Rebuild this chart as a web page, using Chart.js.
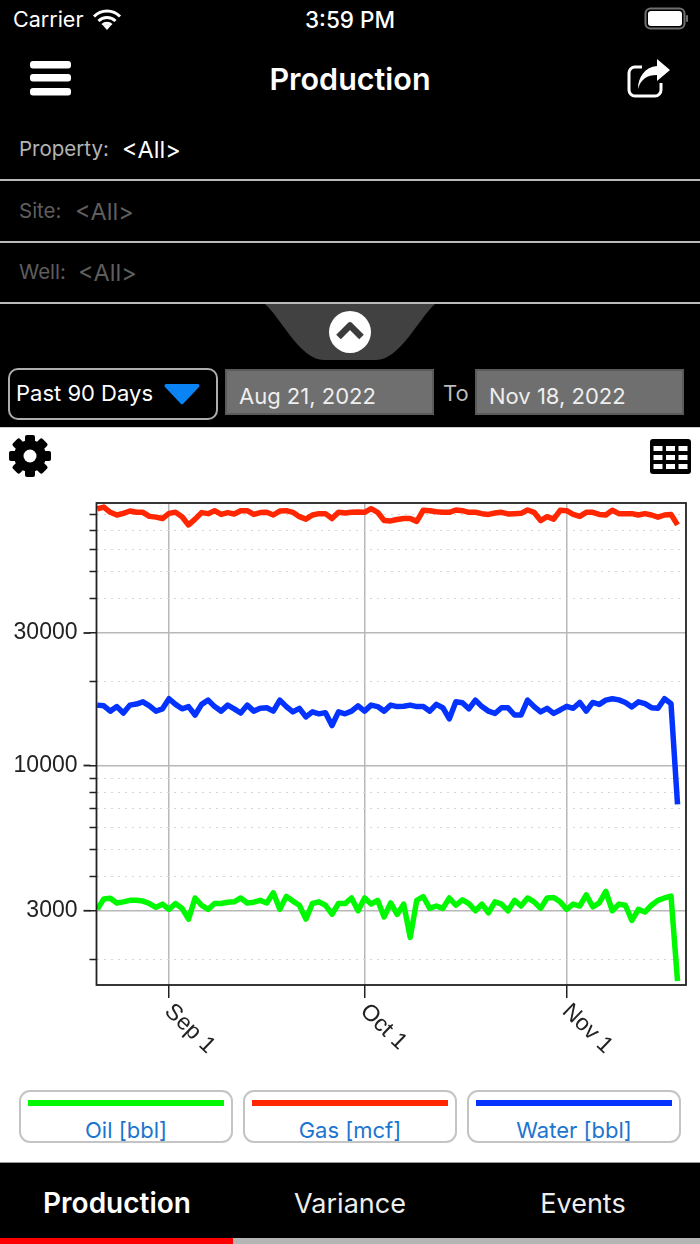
<!DOCTYPE html>
<html>
<head>
<meta charset="utf-8">
<title>Production</title>
<script src="https://cdn.jsdelivr.net/npm/chart.js@4"></script>
<style>
  html, body { margin: 0; padding: 0; background: #000; }
  #phone { position: relative; width: 700px; height: 1244px; overflow: hidden; background: #000;
           font-family: Inter, "Noto Sans", sans-serif; color: #fff; }
  .t { position: absolute; white-space: nowrap; line-height: 1; transform: translateY(-50%); }
  .c { transform: translate(-50%, -50%); }
  .sep { position: absolute; left: 0; width: 700px; height: 2px; background: #b9b9b9; }
  .date { position: absolute; top: 369px; width: 205px; height: 42px; background: #6f6f6f; border: 2px solid #5b5b5b; }
  #panel { position: absolute; left: 0; top: 427px; width: 700px; height: 735px; background: #fff; border-top: 1px solid #ccc; box-sizing: border-box; }
  canvas { position: absolute; left: 0; top: 427px; }
  .leg { position: absolute; top: 1090px; width: 210px; height: 49px; border: 2px solid #c4c4c4; border-radius: 11px; background: #fff; }
  .leg i { position: absolute; left: 7px; top: 8px; width: 196px; height: 6px; }
  .leg span { position: absolute; left: 0; width: 100%; top: 27px; text-align: center; color: #1b75cf; font-size: 22px; line-height: 22px; }
  svg { position: absolute; }
</style>
</head>
<body>
<div id="phone">
  <div class="t" style="left:13px;top:20px;font-size:21.5px">Carrier</div>
  <svg style="left:92px;top:9px" width="30" height="21" viewBox="0 0 30 21">
    <path d="M2 7.5 A18 18 0 0 1 28 7.5 M6.5 12 A12 12 0 0 1 23.5 12 M10.5 16 A6.5 6.5 0 0 1 19.5 16" fill="none" stroke="#fff" stroke-width="3"/>
    <path d="M15 21 L11.5 17 A5 5 0 0 1 18.5 17 Z" fill="#fff"/>
  </svg>
  <div class="t c" style="left:350px;top:20px;font-size:22.5px;font-weight:500">3:59 PM</div>
  <svg style="left:644px;top:7px" width="44" height="23" viewBox="0 0 44 23">
    <rect x="1.5" y="1.5" width="39" height="20" rx="5" fill="none" stroke="#707070" stroke-width="2"/>
    <rect x="4" y="4" width="34" height="15" rx="3" fill="#fff"/>
    <rect x="42" y="8" width="2" height="7" rx="1" fill="#707070"/>
  </svg>

  <svg style="left:30px;top:60px" width="42" height="36" viewBox="0 0 42 36">
    <rect x="0" y="1" width="41" height="7.5" rx="3" fill="#fff"/>
    <rect x="0" y="14" width="41" height="7.5" rx="3" fill="#fff"/>
    <rect x="0" y="28" width="41" height="7.5" rx="3" fill="#fff"/>
  </svg>
  <div class="t c" style="left:350px;top:79px;font-size:30.5px;font-weight:600">Production</div>
  <svg style="left:627px;top:58px" width="44" height="40" viewBox="0 0 44 40">
    <path d="M15 9 H8 A6 6 0 0 0 2 15 V32 A6 6 0 0 0 8 38 H28 A6 6 0 0 0 34 32 V25" fill="none" stroke="#fff" stroke-width="3"/>
    <path d="M30 1 L43 12 L30 23 V17 C20 17 14 21 11 31 C11 19 18 9 30 8 Z" fill="#fff"/>
  </svg>

  <div class="t" style="left:19px;top:149px;font-size:20.5px;color:#b4b4b4">Property:</div>
  <div class="t" style="left:122px;top:150px;font-size:23.5px">&lt;All&gt;</div>
  <div class="sep" style="top:179px"></div>
  <div class="t" style="left:19px;top:211px;font-size:20.5px;color:#5e5e5e">Site:</div>
  <div class="t" style="left:75px;top:212px;font-size:23.5px;color:#5e5e5e">&lt;All&gt;</div>
  <div class="sep" style="top:241px"></div>
  <div class="t" style="left:19px;top:272px;font-size:20.5px;color:#5e5e5e">Well:</div>
  <div class="t" style="left:78px;top:273px;font-size:23.5px;color:#5e5e5e">&lt;All&gt;</div>
  <div class="sep" style="top:302px"></div>

  <svg style="left:264px;top:304px" width="172" height="57" viewBox="0 0 172 57">
    <path d="M1 0 H171 C155 14 136 56 112 56 H60 C36 56 17 14 1 0 Z" fill="#414141"/>
  </svg>
  <svg style="left:329px;top:311px" width="42" height="42" viewBox="0 0 42 42">
    <circle cx="21" cy="21" r="21" fill="#fff"/>
    <path d="M9.5 26 L21 14.5 L32.5 26" fill="none" stroke="#3c3c3c" stroke-width="6.5" stroke-linejoin="round"/>
  </svg>

  <div style="position:absolute;left:8px;top:368px;width:206px;height:48px;border:2px solid #adadad;border-radius:10px"></div>
  <div class="t" style="left:16px;top:393px;font-size:22px">Past 90 Days</div>
  <svg style="left:163px;top:383px" width="38" height="22" viewBox="0 0 38 22">
    <path d="M3 1 H35 A2 2 0 0 1 36 4 L20 21 A2 2 0 0 1 18 21 L2 4 A2 2 0 0 1 3 1 Z" fill="#0a84f5"/>
  </svg>
  <div class="date" style="left:225px"></div>
  <div class="t" style="left:239px;top:396px;font-size:22px;color:#eee">Aug 21, 2022</div>
  <div class="t" style="left:443px;top:393px;font-size:22px;color:#bbb">To</div>
  <div class="date" style="left:475px"></div>
  <div class="t" style="left:489px;top:396px;font-size:22px;color:#eee">Nov 18, 2022</div>

  <div id="panel"></div>
  <canvas id="chart" width="700" height="660"></canvas>

  <svg style="left:9px;top:435px" width="42" height="42" viewBox="-21 -21 42 42">
    <g fill="#000">
      <rect x="-5" y="-21" width="10" height="42" rx="2"/>
      <rect x="-5" y="-21" width="10" height="42" rx="2" transform="rotate(45)"/>
      <rect x="-5" y="-21" width="10" height="42" rx="2" transform="rotate(90)"/>
      <rect x="-5" y="-21" width="10" height="42" rx="2" transform="rotate(135)"/>
      <circle r="16"/>
    </g>
    <circle r="6.5" fill="#fff"/>
  </svg>
  <svg style="left:650px;top:439px" width="41" height="35" viewBox="0 0 41 35">
    <rect width="41" height="35" rx="3" fill="#000"/>
    <g fill="#fff">
      <rect x="3.5" y="7" width="9" height="5"/><rect x="16" y="7" width="9" height="5"/><rect x="28.5" y="7" width="9" height="5"/>
      <rect x="3.5" y="16" width="9" height="5"/><rect x="16" y="16" width="9" height="5"/><rect x="28.5" y="16" width="9" height="5"/>
      <rect x="3.5" y="25" width="9" height="5"/><rect x="16" y="25" width="9" height="5"/><rect x="28.5" y="25" width="9" height="5"/>
    </g>
  </svg>

  <div class="leg" style="left:19px"><i id="leg0"></i><span id="name0"></span></div>
  <div class="leg" style="left:243px"><i id="leg1"></i><span id="name1"></span></div>
  <div class="leg" style="left:467px"><i id="leg2"></i><span id="name2"></span></div>

  <div style="position:absolute;left:0;top:1162px;width:700px;height:1px;background:#999"></div>
  <div class="t c" style="left:117px;top:1203px;font-size:28px;font-weight:600">Production</div>
  <div class="t c" style="left:350px;top:1203px;font-size:27px;color:#eee">Variance</div>
  <div class="t c" style="left:583px;top:1203px;font-size:27px;color:#eee">Events</div>
  <div style="position:absolute;left:0;top:1238px;width:233px;height:6px;background:#f00"></div>
  <div style="position:absolute;left:233px;top:1238px;width:467px;height:6px;background:#b5b5b5"></div>
</div>

<script>
// daily values Aug 21 - Nov 18 2022
const oil = [3034,3310,3330,3200,3230,3270,3270,3250,3185,3085,3170,3035,3185,3060,2800,3335,3140,3035,3185,3185,
  3220,3230,3335,3200,3220,3270,3200,3480,3035,3380,3250,3140,2800,3185,3230,3140,2915,3185,3185,3335,
  3000,3335,3170,3270,2850,3200,2910,3170,2406,3270,3370,3060,3120,3060,3335,3140,3285,3185,3000,3170,
  2950,3230,3170,3000,3270,3120,3335,3230,3060,3335,3350,3230,3035,3170,3120,3420,3100,3200,3520,3000,
  3170,3140,2770,3035,2970,3140,3270,3335,3390,1675];
const gas = [83900,85200,81600,79800,80900,82500,81600,81600,78900,78400,77500,80900,81600,78700,73500,77100,81400,80700,82700,80200,
  81400,80500,82700,82700,80200,81400,81600,79800,82500,82700,81600,78700,77100,79800,80700,80700,77500,81600,81100,81600,
  81800,81600,84100,81600,76200,76000,76900,77500,77500,75700,83000,82700,82000,81600,81600,83200,82700,81600,81600,80700,
  80200,81100,81600,80500,80700,80900,83200,81600,76200,78700,77100,83000,82700,80200,78900,81600,81600,80200,79800,83000,
  80700,80700,80700,79800,80700,79800,78400,79800,80200,73500];
const water = [16500,16400,15700,16300,15450,16500,16650,16960,16400,15700,16000,17400,16600,16000,16300,15200,16600,17200,16300,15700,
  16500,16000,15450,16500,15700,16070,16150,15700,17200,16300,15600,16070,14960,15600,15350,15500,13930,15600,15350,15700,
  16400,15700,16500,16300,15700,16500,16300,16340,16500,16300,16300,15700,16600,16150,14730,16960,16830,16000,17200,16300,
  15700,15400,16150,16150,15200,15200,17200,16300,15600,16070,15400,15850,16340,16070,16870,15700,16870,16600,17200,17400,
  17230,16870,16250,16960,16700,16150,16070,17400,16700,7245];

const seriesNames = ['Oil [bbl]', 'Gas [mcf]', 'Water [bbl]'];
const seriesColors = ['#00F900', '#FF2600', '#0433FF'];

const xTickDays = [11, 41, 72];
const xTickLabels = ['Sep 1', 'Oct 1', 'Nov 1'];
const yTicksMajor = [3000, 10000, 30000];
const yTicksMinor = [2000, 4000, 5000, 6000, 7000, 8000, 9000, 20000, 40000, 50000, 60000, 70000, 80000];

const xMin = -0.12, xMax = 90.3;
const yMin = 1621, yMax = 88150;

seriesNames.forEach(function (n, i) {
  document.getElementById('name' + i).textContent = n;
  document.getElementById('leg' + i).style.background = seriesColors[i];
});

function pts(arr) {
  return arr.map(function (v, i) { return { x: i, y: v }; });
}

function isMajor(ctx) {
  return ctx.tick && yTicksMajor.indexOf(ctx.tick.value) >= 0;
}

// frame, the long major ticks on y, and the slanted date labels
const framePlugin = {
  id: 'frame',
  afterDraw: function (chart) {
    const c = chart.ctx, a = chart.chartArea;
    const xs = chart.scales.x, ys = chart.scales.y;
    c.save();
    c.strokeStyle = '#222';
    c.lineWidth = 1.8;
    c.strokeRect(a.left, a.top, a.right - a.left, a.bottom - a.top);
    yTicksMajor.forEach(function (v) {
      const py = ys.getPixelForValue(v);
      c.beginPath();
      c.moveTo(a.left - 13, py);
      c.lineTo(a.left - 6, py);
      c.stroke();
    });
    c.fillStyle = '#222';
    c.font = '23px "Liberation Sans"';
    c.textAlign = 'left';
    c.textBaseline = 'middle';
    xs.ticks.forEach(function (t) {
      c.save();
      c.translate(xs.getPixelForValue(t.value) - 1, a.bottom + 23);
      c.rotate(44 * Math.PI / 180);
      c.fillText(t.label, 0, 0);
      c.restore();
    });
    c.restore();
  }
};

new Chart(document.getElementById('chart'), {
  type: 'line',
  data: {
    datasets: [
      { label: seriesNames[0], data: pts(oil), borderColor: seriesColors[0] },
      { label: seriesNames[1], data: pts(gas), borderColor: seriesColors[1] },
      { label: seriesNames[2], data: pts(water), borderColor: seriesColors[2] }
    ]
  },
  options: {
    responsive: false,
    animation: false,
    devicePixelRatio: 1,
    layout: { padding: { top: 76, right: 14, left: 0, bottom: 0 } },
    elements: {
      point: { radius: 0 },
      line: { borderWidth: 5.5, tension: 0, borderJoinStyle: 'round', borderCapStyle: 'butt' }
    },
    plugins: { legend: { display: false }, title: { display: false }, tooltip: { enabled: false } },
    scales: {
      x: {
        type: 'linear',
        min: xMin,
        max: xMax,
        afterBuildTicks: function (s) {
          s.ticks = xTickDays.map(function (d) { return { value: d }; });
        },
        afterFit: function (s) { s.height = 102; },
        ticks: {
          display: false,
          autoSkip: false,
          callback: function (v) { return xTickLabels[xTickDays.indexOf(v)]; }
        },
        grid: { color: '#b8b8b8', lineWidth: 1.5, tickLength: 13, tickColor: '#222', tickWidth: 1.5 },
        border: { display: false }
      },
      y: {
        type: 'logarithmic',
        min: yMin,
        max: yMax,
        afterBuildTicks: function (s) {
          s.ticks = yTicksMinor.concat(yTicksMajor).sort(function (a, b) { return a - b; })
            .map(function (v) { return { value: v, major: yTicksMajor.indexOf(v) >= 0 }; });
        },
        afterFit: function (s) { s.width = 96.5; },
        ticks: {
          autoSkip: false,
          padding: 12,
          color: '#222',
          font: { family: '"Liberation Sans"', size: 23 },
          callback: function (v) { return yTicksMajor.indexOf(v) >= 0 ? String(v) : ''; }
        },
        grid: {
          tickLength: 7,
          tickColor: '#222',
          tickWidth: 1.5,
          color: function (ctx) { return isMajor(ctx) ? '#b8b8b8' : '#d4d4d4'; },
          lineWidth: function (ctx) { return isMajor(ctx) ? 1.5 : 1; }
        },
        border: {
          display: false,
          dash: function (ctx) { return isMajor(ctx) ? [] : [2, 5]; }
        }
      }
    }
  },
  plugins: [framePlugin]
});
</script>
</body>
</html>
